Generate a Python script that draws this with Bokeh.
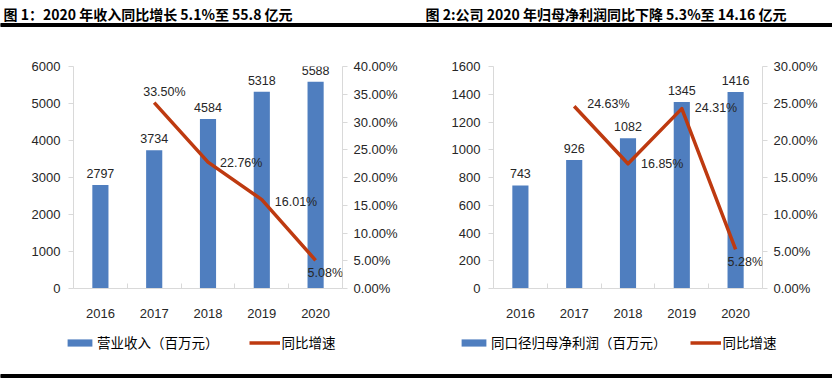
from bokeh.plotting import figure
from bokeh.models import (Range1d, LinearAxis, FixedTicker, PrintfTickFormatter,
                          ColumnDataSource, LabelSet, Legend, LegendItem, Label)
from bokeh.layouts import column, row
from bokeh.core.properties import value
from bokeh.embed import file_html
from bokeh.resources import INLINE

# ---------------- data ----------------
years = ["2016", "2017", "2018", "2019", "2020"]
revenue = [2797, 3734, 4584, 5318, 5588]
growth_years = ["2017", "2018", "2019", "2020"]
revenue_growth = [33.50, 22.76, 16.01, 5.08]
profit = [743, 926, 1082, 1345, 1416]
profit_growth = [24.63, 16.85, 24.31, 5.28]

title1 = "图 1：2020 年收入同比增长 5.1%至 55.8 亿元"
title2 = "图 2:公司 2020 年归母净利润同比下降 5.3%至 14.16 亿元"
legend1 = ["营业收入（百万元）", "同比增速"]
legend2 = ["同口径归母净利润（百万元）", "同比增速"]

left_ticks1 = [0, 1000, 2000, 3000, 4000, 5000, 6000]
right_ticks1 = [0, 5, 10, 15, 20, 25, 30, 35, 40]
left_ticks2 = [0, 200, 400, 600, 800, 1000, 1200, 1400, 1600]
right_ticks2 = [0, 5, 10, 15, 20, 25, 30]

# ---------------- styles ----------------
BAR = "#4F7EBF"
LINE = "#BE3A10"
AXIS = "#D9D9D9"
TXT = "#262626"
NUM = "Liberation Sans"
CJK = "Noto Sans CJK SC"

pct_xoff1 = [-11, 12, 13, -8]
pct_yoff1 = [11, -1, -2, -13]
pct_xoff2 = [13, 13, 13, -8]
pct_yoff2 = [2, 0, 1, -13]


def style_axis(ax, standoff):
    ax.axis_line_color = AXIS
    ax.major_label_standoff = standoff
    ax.major_label_text_font = NUM
    ax.major_label_text_font_size = "13px"
    ax.major_label_text_color = TXT


def panel(bl, br, vals, growth, lticks, rticks, xoff, yoff):
    p = figure(frame_width=269, frame_height=222, output_backend="svg",
               toolbar_location=None,
               x_range=Range1d(-0.5, len(years) - 0.5),
               y_range=Range1d(lticks[0], lticks[-1]),
               min_border_left=bl, min_border_right=br,
               min_border_top=39, min_border_bottom=44)
    p.outline_line_color = None
    p.grid.visible = False
    p.extra_y_ranges = {"pct": Range1d(rticks[0], rticks[-1])}

    xs = list(range(len(years)))
    src = ColumnDataSource(dict(x=xs, v=vals, t=[str(v) for v in vals]))
    gx = [years.index(y) for y in growth_years]
    gsrc = ColumnDataSource(dict(x=gx, g=growth, t=["%.2f%%" % g for g in growth],
                                 xo=xoff, yo=yoff))

    p.vbar(x="x", top="v", width=0.3, source=src, fill_color=BAR, line_color=None)
    p.line(x="x", y="g", source=gsrc, y_range_name="pct", line_color=LINE,
           line_width=3.5, line_join="round")

    p.add_layout(LabelSet(x="x", y="v", text="t", source=src, y_offset=7,
                          text_align="center", text_baseline="bottom",
                          text_font=value(NUM), text_font_size=value("12.5px"),
                          text_color=TXT))
    p.add_layout(LabelSet(x="x", y="g", text="t", source=gsrc, y_range_name="pct",
                          x_offset="xo", y_offset="yo",
                          text_align="left", text_baseline="middle",
                          text_font=value(NUM), text_font_size=value("12.5px"),
                          text_color=TXT))

    xa = p.xaxis[0]
    xa.ticker = FixedTicker(ticks=xs, minor_ticks=[x + 0.5 for x in xs[:-1]])
    xa.major_label_overrides = {i: y for i, y in enumerate(years)}
    style_axis(xa, 14)
    xa.major_tick_line_color = None
    xa.minor_tick_line_color = AXIS
    xa.minor_tick_in = 5
    xa.minor_tick_out = 0

    ya = p.yaxis[0]
    ya.ticker = FixedTicker(ticks=lticks)
    style_axis(ya, 8)
    ya.major_tick_line_color = AXIS
    ya.major_tick_in = 0
    ya.major_tick_out = 5
    ya.minor_tick_line_color = None

    ra = LinearAxis(y_range_name="pct", ticker=FixedTicker(ticks=rticks),
                    formatter=PrintfTickFormatter(format="%.2f%%"))
    style_axis(ra, 6)
    ra.major_tick_line_color = AXIS
    ra.major_tick_in = 0
    ra.major_tick_out = 5
    ra.minor_tick_line_color = None
    p.add_layout(ra, "right")
    return p


p1 = panel(73, 78, revenue, revenue_growth, left_ticks1, right_ticks1, pct_xoff1, pct_yoff1)
p2 = panel(73, 70, profit, profit_growth, left_ticks2, right_ticks2, pct_xoff2, pct_yoff2)

# header: titles and rule
hdr = figure(width=832, height=27, output_backend="svg", toolbar_location=None,
             x_range=Range1d(0, 832), y_range=Range1d(0, 27),
             x_axis_type=None, y_axis_type=None, min_border=0)
hdr.outline_line_color = None
hdr.grid.visible = False
hdr.quad(left=[0], right=[832], bottom=[1], top=[4], color="#000000")
for tx, t in [(3, title1), (425, title2)]:
    hdr.add_layout(Label(x=tx, y=13.5, text=t, text_font=CJK, text_font_style="bold",
                         text_font_size="14px", text_baseline="middle",
                         text_color="#000000"))

# legend strip with bottom rule (legend proxies have zero size, so draw nothing)
lf = figure(width=832, height=46, output_backend="svg", toolbar_location=None,
            x_range=Range1d(0, 832), y_range=Range1d(0, 46),
            x_axis_type=None, y_axis_type=None, min_border=0)
lf.outline_line_color = None
lf.grid.visible = False
lf.quad(left=[0], right=[832], bottom=[1], top=[4], color="#000000")
for labels, lx, sp in [(legend1, 64, 30), (legend2, 458, 23)]:
    rb = lf.vbar(x=[0], bottom=[0], top=[0], width=0, fill_color=BAR, line_color=None)
    rl = lf.line(x=[0], y=[0], line_color=LINE, line_width=3.5)
    leg = Legend(items=[LegendItem(label=labels[0], renderers=[rb]),
                        LegendItem(label=labels[1], renderers=[rl])],
                 orientation="horizontal", location=(lx, 26),
                 label_text_font=CJK, label_text_font_size="13.5px",
                 label_text_color="#000000",
                 glyph_width=31, glyph_height=9, label_standoff=2,
                 spacing=sp, border_line_color=None, background_fill_alpha=0,
                 padding=0, margin=0)
    lf.add_layout(leg, "center")

layout = column(hdr, row(p1, p2), lf)
open("out.html", "w").write(file_html(layout, INLINE))
